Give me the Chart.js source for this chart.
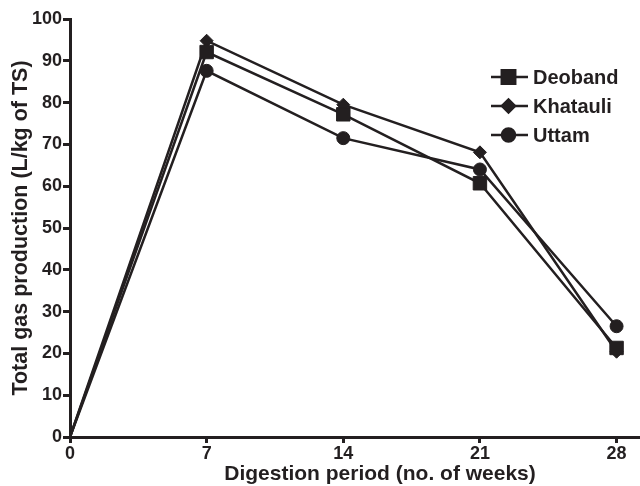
<!DOCTYPE html>
<html>
<head>
<meta charset="utf-8">
<script src="https://cdn.jsdelivr.net/npm/chart.js@4.4.0/dist/chart.umd.min.js"></script>
<style>
  html, body { margin: 0; padding: 0; background: #fff; }
  #wrap { width: 640px; height: 486px; }
</style>
</head>
<body>
<div id="wrap"><canvas id="gasChart" width="640" height="486"></canvas></div>
<script>
// Digestion period (weeks)
const weeks = [0, 7, 14, 21, 28];

// Total gas production (L/kg of TS)
const deoband = [0, 92.1, 77.2, 60.7, 21.3];
const khatauli = [0, 94.8, 79.5, 68.1, 20.4];
const uttam = [0, 87.6, 71.5, 64.0, 26.5];

const xTicks = [0, 7, 14, 21, 28];
const yTicks = [0, 10, 20, 30, 40, 50, 60, 70, 80, 90, 100];

const xTitle = 'Digestion period (no. of weeks)';
const yTitle = 'Total gas production (L/kg of TS)';

const ink = '#231f20';
const fontFamily = "'Liberation Sans', Arial, sans-serif";

function toPoints(values) {
    return weeks.map((w, i) => ({ x: w, y: values[i] }));
}

function makeSeries(label, values, style, radius) {
    return {
        label: label,
        data: toPoints(values),
        borderColor: ink,
        backgroundColor: ink,
        borderWidth: 2.5,
        pointStyle: style,
        markerSize: radius,
        // no marker at the origin, as in the original
        pointRadius: c => (c.dataIndex === 0 ? 0 : radius),
        pointBorderWidth: 1,
        tension: 0,
        fill: false,
        clip: false
    };
}

// Legend with a short line through the marker, plus the x axis title
const lineLegend = {
    id: 'lineLegend',
    afterDraw(chart) {
        const ctx = chart.ctx;
        const x0 = 491, x1 = 528, textX = 533;
        let y = 77;
        chart.data.datasets.forEach(ds => {
            ctx.save();
            ctx.strokeStyle = ink;
            ctx.lineWidth = 2.5;
            ctx.beginPath();
            ctx.moveTo(x0, y);
            ctx.lineTo(x1, y);
            ctx.stroke();
            ctx.fillStyle = ink;
            Chart.helpers.drawPoint(ctx, {
                pointStyle: ds.pointStyle,
                radius: ds.markerSize,
                borderWidth: 1
            }, (x0 + x1) / 2 - 1, y);
            ctx.fill();
            ctx.font = 'bold 20px ' + fontFamily;
            ctx.textBaseline = 'middle';
            ctx.textAlign = 'left';
            ctx.fillText(ds.label, textX, y + 1);
            ctx.restore();
            y += 29;
        });

        // x title sits a bit right of the plot centre in the original
        ctx.save();
        ctx.fillStyle = ink;
        ctx.font = 'bold 21px ' + fontFamily;
        ctx.textAlign = 'center';
        ctx.textBaseline = 'middle';
        ctx.fillText(xTitle, 380, 474);
        ctx.restore();
    }
};

const ctx = document.getElementById('gasChart').getContext('2d');
new Chart(ctx, {
    type: 'line',
    data: {
        datasets: [
            makeSeries('Deoband', deoband, 'rect', 9.5),
            makeSeries('Khatauli', khatauli, 'rectRot', 6.5),
            makeSeries('Uttam', uttam, 'circle', 6.5)
        ]
    },
    options: {
        responsive: false,
        animation: false,
        layout: { autoPadding: false, padding: { top: 19, right: 0, left: 0, bottom: 0 } },
        plugins: {
            legend: { display: false },
            tooltip: { enabled: false }
        },
        scales: {
            x: {
                type: 'linear',
                min: 0,
                max: 29.2,
                afterBuildTicks: axis => { axis.ticks = xTicks.map(v => ({ value: v })); },
                afterFit: axis => {
                    axis.height = 49;
                    axis.paddingLeft = 0;
                    axis.paddingRight = 0;
                },
                border: { color: ink, width: 3 },
                grid: { drawOnChartArea: false, drawTicks: true, tickLength: 6, color: ink, lineWidth: 3 },
                ticks: {
                    color: ink,
                    padding: 0,
                    font: { family: fontFamily, size: 18, weight: 'bold' }
                }
            },
            y: {
                min: 0,
                max: 100,
                afterBuildTicks: axis => { axis.ticks = yTicks.map(v => ({ value: v })); },
                afterFit: axis => {
                    axis.width = 70;
                    axis.paddingTop = 0;
                    axis.paddingBottom = 0;
                },
                border: { color: ink, width: 3 },
                grid: { drawOnChartArea: false, drawTicks: true, tickLength: 7, color: ink, lineWidth: 3 },
                ticks: {
                    color: ink,
                    padding: 1,
                    font: { family: fontFamily, size: 18, weight: 'bold' }
                },
                title: {
                    display: true,
                    text: yTitle,
                    color: ink,
                    padding: { top: 8, bottom: 0 },
                    font: { family: fontFamily, size: 21.5, weight: 'bold' }
                }
            }
        }
    },
    plugins: [lineLegend]
});
</script>
</body>
</html>
